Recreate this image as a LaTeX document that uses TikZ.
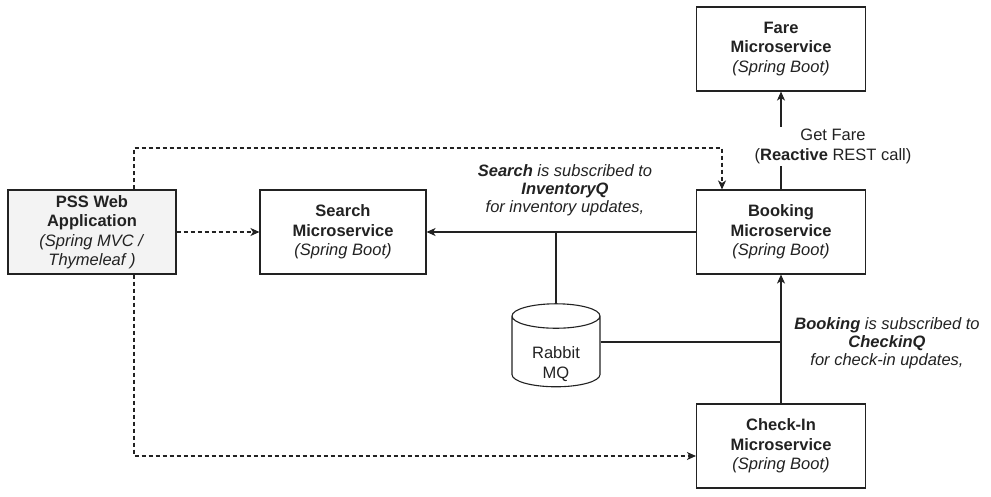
\documentclass[tikz,border=0pt]{standalone}
\usepackage{fontspec}
\setmainfont{Liberation Sans}
\usetikzlibrary{positioning,arrows.meta,shapes.geometric}

\definecolor{ink}{HTML}{222222}
\definecolor{paleGray}{HTML}{F3F3F3}

\begin{document}
\begin{tikzpicture}[x=1pt,y=-1pt,
	every node/.style={text=ink,font=\fontsize{16.5}{19.5}\selectfont},
	svc/.style={draw=ink,line width=1.1pt,fill=white,align=center,minimum width=169pt,minimum height=84pt},
	queue/.style={draw=ink,line width=1.1pt,fill=white,cylinder,shape border rotate=90,aspect=0.45,minimum width=88pt,minimum height=83pt},
	flow/.style={draw=ink,line width=1.1pt,-{Stealth[length=9pt,width=8pt,inset=2.5pt]}},
	web/.style={flow,dash pattern=on 4pt off 3pt},
	wire/.style={draw=ink,line width=1.1pt}]

\useasboundingbox (0,0) rectangle (991,496);

\newcommand{\msvc}[1]{\textbf{#1}\\\textbf{Microservice}\\\textit{(Spring Boot)}}

\node[svc,fill=paleGray,minimum width=168pt] (pss) at (92,232) {\textbf{PSS Web}\\\textbf{Application}\\\textit{(Spring MVC /}\\\textit{Thymeleaf )}};
\node[svc,minimum width=166pt] (search) at (343,232) {\msvc{Search}};

\foreach \n/\t/\y in {fare/Fare/49,booking/Booking/232,checkin/Check-In/446}{
	\node[svc] (\n) at (781,\y) {\msvc{\t}};
}

\node[queue] (rabbit) at (556,354) {\raisebox{-15pt}[0pt][0pt]{\begin{tabular}{@{}c@{}}Rabbit\\MQ\end{tabular}}};

% queue taps
\coordinate (inv) at (rabbit.north |- booking.west);
\coordinate (chk) at ([yshift=12pt]rabbit.east -| booking.south);

\draw[flow] (booking) -- (search);
\draw[wire] (rabbit.north) -- (inv);
\draw[flow] (checkin) -- (booking);
\draw[wire] ([yshift=12pt]rabbit.east) -- (chk);
\draw[flow] (booking) -- node[fill=white,inner sep=2pt,xshift=52pt,yshift=-6pt,align=center]{Get Fare\\(\textbf{Reactive} REST call)} (fare);

% web calls
\coordinate (top) at (722,148);
\draw[web] (pss) -- (search);
\draw[web] ([xshift=42pt]pss.north) |- (top) -- ([xshift=-59pt]booking.north);
\draw[web] ([xshift=42pt]pss.south) |- ([yshift=-10pt]checkin.west);

\node[align=center,font=\fontsize{16.5}{18}\selectfont\itshape] (invq) at (565,190) {\textbf{Search} is subscribed to\\\textbf{InventoryQ}\\for inventory updates,};
\node[align=center,font=\fontsize{16.5}{18}\selectfont\itshape] (chkq) at (887,343) {\textbf{Booking} is subscribed to\\\textbf{CheckinQ}\\for check-in updates,};

\end{tikzpicture}
\end{document}
